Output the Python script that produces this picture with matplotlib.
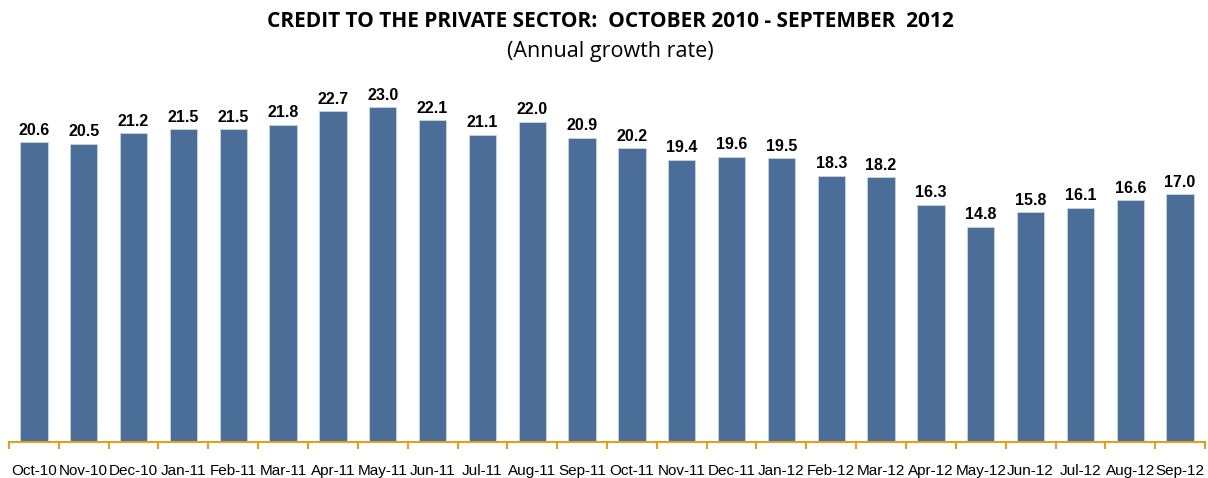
import numpy as np
import matplotlib.pyplot as plt
from matplotlib import font_manager
from matplotlib.ticker import FixedLocator

# --- data ---
months = ['Oct-10', 'Nov-10', 'Dec-10', 'Jan-11', 'Feb-11', 'Mar-11', 'Apr-11', 'May-11',
          'Jun-11', 'Jul-11', 'Aug-11', 'Sep-11', 'Oct-11', 'Nov-11', 'Dec-11', 'Jan-12',
          'Feb-12', 'Mar-12', 'Apr-12', 'May-12', 'Jun-12', 'Jul-12', 'Aug-12', 'Sep-12']
growth = [20.6, 20.5, 21.2, 21.5, 21.5, 21.8, 22.7, 23.0, 22.1, 21.1, 22.0, 20.9,
          20.2, 19.4, 19.6, 19.5, 18.3, 18.2, 16.3, 14.8, 15.8, 16.1, 16.6, 17.0]

bar_col = '#4A6E97'
axis_col = '#E0A020'

# narrow font for month labels if there is one
names = {f.name for f in font_manager.fontManager.ttflist}
if 'Liberation Sans Narrow' in names:
    tick_font, tick_size = 'Liberation Sans Narrow', 12.5
else:
    tick_font, tick_size = 'Liberation Sans', 11

fig = plt.figure(figsize=(12.08, 4.78), dpi=100)
ax = fig.add_axes([9/1208, 36/478, 1196/1208, 364/478])

x = np.arange(len(months))
ax.bar(x, growth, width=0.55, color=bar_col, edgecolor='#C9D5E3', linewidth=0.6)

for xi, v in zip(x, growth):
    ax.text(xi, v + 0.3, f'{v:.1f}', ha='center', va='bottom', fontsize=11.5,
            fontweight='bold', family=['Liberation Sans', 'DejaVu Sans'])

ax.set_xlim(-0.5, len(months) - 0.5)
ax.set_ylim(0, 25)

for s in ['top', 'right', 'left']:
    ax.spines[s].set_visible(False)
ax.spines['bottom'].set_color(axis_col)
ax.spines['bottom'].set_linewidth(1.5)
ax.set_yticks([])

ax.set_xticks(x)
ax.set_xticklabels(months, fontsize=tick_size, family=[tick_font, 'DejaVu Sans'])
ax.tick_params(axis='x', which='major', length=0, pad=16)
ax.xaxis.set_minor_locator(FixedLocator(np.arange(-0.5, len(months), 1.0)))
ax.tick_params(axis='x', which='minor', length=5, width=1.5, color=axis_col)

fig.text(0.505, 0.954, 'CREDIT TO THE PRIVATE SECTOR:  OCTOBER 2010 - SEPTEMBER  2012',
         ha='center', va='center', fontsize=15, fontweight='bold',
         family=['Open Sans', 'DejaVu Sans'])
fig.text(0.505, 0.893, '(Annual growth rate)', ha='center', va='center', fontsize=15.5,
         family=['Open Sans', 'DejaVu Sans'])

fig.savefig('out.png', dpi=100)
